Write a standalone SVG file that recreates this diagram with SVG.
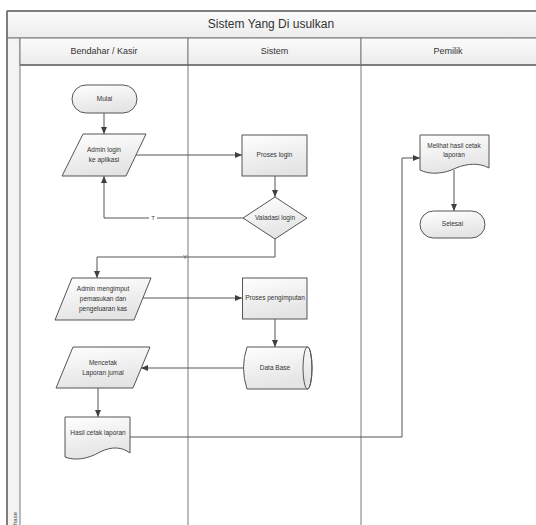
<svg xmlns="http://www.w3.org/2000/svg" width="536" height="525" viewBox="0 0 536 525">
<defs>
<linearGradient id="nodeFill" x1="0" y1="0" x2="0.3" y2="1">
<stop offset="0" stop-color="#ffffff"/>
<stop offset="1" stop-color="#e4e4e4"/>
</linearGradient>
<linearGradient id="headFill" x1="0" y1="0" x2="0" y2="1">
<stop offset="0" stop-color="#fbfbfb"/>
<stop offset="1" stop-color="#ececec"/>
</linearGradient>
<marker id="arr" markerUnits="userSpaceOnUse" markerWidth="8" markerHeight="8" refX="7" refY="4" orient="auto">
<path d="M0,1 L7,4 L0,7 Z" fill="#404040"/>
</marker>
</defs>
<style>
.frame{fill:none;stroke:#6a6a6a;stroke-width:1.5}
.lane{fill:none;stroke:#7a7a7a;stroke-width:1}
.head{fill:url(#headFill);stroke:#7a7a7a;stroke-width:1}
.node{fill:url(#nodeFill);stroke:#555555;stroke-width:1}
.edge{fill:none;stroke:#555555;stroke-width:1}
.t{font-family:"Liberation Sans",Arial,sans-serif;font-size:6.5px;fill:#333333;text-anchor:middle;dominant-baseline:middle}
.h{font-family:"Liberation Sans",Arial,sans-serif;font-size:9px;fill:#333333;text-anchor:middle;dominant-baseline:middle}
.title{font-family:"Liberation Sans",Arial,sans-serif;font-size:12px;fill:#333333;text-anchor:middle;dominant-baseline:middle}
.lbl{font-family:"Liberation Sans",Arial,sans-serif;font-size:6px;fill:#444444;text-anchor:middle;dominant-baseline:middle}
</style>
<rect width="536" height="525" fill="#ffffff"/>
<g id="pool">
<rect class="head" x="7" y="11" width="540" height="27"/>
<text class="title" x="271" y="25">Sistem Yang Di usulkan</text>
<rect x="7" y="38" width="13" height="500" fill="#f3f3f3" stroke="#7a7a7a" stroke-width="1"/>
<rect class="head" x="20" y="38" width="168" height="27"/>
<rect class="head" x="188" y="38" width="173" height="27"/>
<rect class="head" x="361" y="38" width="186" height="27"/>
<text class="h" x="104" y="51.5">Bendahar / Kasir</text>
<text class="h" x="274.5" y="51.5">Sistem</text>
<text class="h" x="448" y="51.5">Pemilik</text>
<line class="lane" x1="188" y1="65" x2="188" y2="525"/>
<line class="lane" x1="361" y1="65" x2="361" y2="525"/>
<line class="frame" x1="7" y1="11" x2="7" y2="525"/>
<line class="frame" x1="7" y1="11" x2="536" y2="11"/>
<line class="frame" x1="20" y1="65" x2="536" y2="65"/>
<text class="lbl" transform="translate(15.5,525) rotate(-90)" style="text-anchor:start">hase</text>
</g>
<g id="connectors">
<line class="edge" x1="104" y1="113" x2="104" y2="134" marker-end="url(#arr)"/>
<line class="edge" x1="136" y1="155" x2="242" y2="155" marker-end="url(#arr)"/>
<line class="edge" x1="275" y1="176" x2="275" y2="197" marker-end="url(#arr)"/>
<polyline class="edge" points="243,218 104,218 104,176" marker-end="url(#arr)"/>
<polyline class="edge" points="275,239 275,257 97,257 97,278" marker-end="url(#arr)"/>
<line class="edge" x1="143" y1="298" x2="242" y2="298" marker-end="url(#arr)"/>
<line class="edge" x1="275" y1="319" x2="275" y2="347" marker-end="url(#arr)"/>
<line class="edge" x1="243" y1="368" x2="141" y2="368" marker-end="url(#arr)"/>
<line class="edge" x1="98" y1="388" x2="98" y2="417" marker-end="url(#arr)"/>
<polyline class="edge" points="130,437 402,437 402,158 420,158" marker-end="url(#arr)"/>
<line class="edge" x1="454" y1="170" x2="454" y2="211" marker-end="url(#arr)"/>
<rect x="149" y="215" width="8" height="6" fill="#ffffff"/>
<text class="lbl" x="153" y="218">T</text>
<text class="lbl" x="185" y="257.5">Y</text>
</g>
<g id="mulai">
<rect class="node" x="72" y="85" width="65" height="28" rx="14"/>
<text class="t" x="104.5" y="99">Mulai</text>
</g>
<g id="admin-login">
<polygon class="node" points="83,134 146,134 126,176 62,176"/>
<text class="t" x="104" y="150">Admin login</text>
<text class="t" x="104" y="160">ke aplikasi</text>
</g>
<g id="proses-login">
<rect class="node" x="242" y="135" width="65" height="41"/>
<text class="t" x="274.5" y="155.5">Proses login</text>
</g>
<g id="validasi-login">
<polygon class="node" points="275,197 307,218 275,239 243,218"/>
<text class="t" x="275" y="218">Valadasi login</text>
</g>
<g id="admin-mengimput">
<polygon class="node" points="72,278 151,278 134,320 55,320"/>
<text class="t" x="103" y="289">Admin mengimput</text>
<text class="t" x="103" y="299">pemasukan dan</text>
<text class="t" x="103" y="309">pengeluaran kas</text>
</g>
<g id="proses-pengimputan">
<rect class="node" x="242.5" y="278" width="64.5" height="41"/>
<text class="t" x="275" y="298.5">Proses pengimputan</text>
</g>
<g id="data-base">
<path class="node" d="M247,347 H307.5 A4.5,21 0 0 1 307.5,389 H247 Q240,368 247,347 Z"/>
<ellipse cx="307.5" cy="368" rx="4.5" ry="21" fill="none" stroke="#555555" stroke-width="1"/>
<text class="t" x="275" y="368">Data Base</text>
</g>
<g id="mencetak">
<polygon class="node" points="73,347 150,347 133,388 56,388"/>
<text class="t" x="103" y="363">Mencetak</text>
<text class="t" x="103" y="373">Laporan jurnal</text>
</g>
<g id="hasil-cetak">
<path class="node" d="M65,417 H130 V453 C122,447 112,446 100,452 C88,459 75,461 65,457 Z"/>
<text class="t" x="98" y="433">Hasil cetak laporan</text>
</g>
<g id="melihat">
<path class="node" d="M420,135 H489 V168 C480,163 468,163 456,168 C444,174 430,175 420,170 Z"/>
<text class="t" x="454" y="146">Melihat hasil cetak</text>
<text class="t" x="454" y="155">laporan</text>
</g>
<g id="selesai">
<rect class="node" x="420" y="211" width="65" height="27" rx="13.5"/>
<text class="t" x="452.5" y="224.5">Selesai</text>
</g>
</svg>
